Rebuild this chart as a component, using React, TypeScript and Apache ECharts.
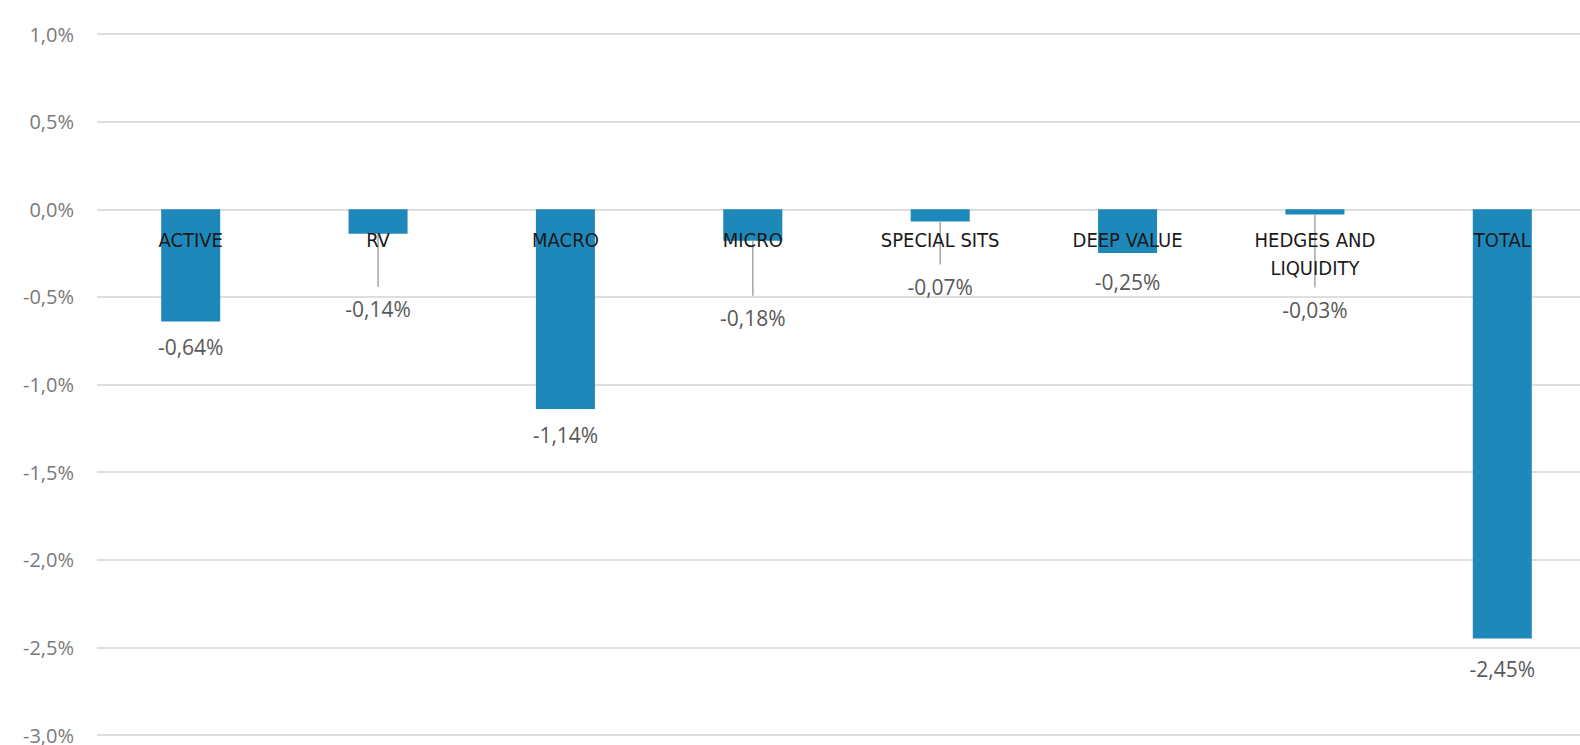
import React, { useEffect, useRef } from "react";
import * as echarts from "echarts";

const categories = [
  "ACTIVE",
  "RV",
  "MACRO",
  "MICRO",
  "SPECIAL SITS",
  "DEEP VALUE",
  "HEDGES AND\nLIQUIDITY",
  "TOTAL",
];
const values = [-0.64, -0.14, -1.14, -0.18, -0.07, -0.25, -0.03, -2.45];

const axisMin = -3;
const axisMax = 1;
const axisStep = 0.5;

// label placement (styling): px below bar end to label centre, and whether a leader line is drawn
const labelDrop = [26, 75, 26, 77, 65, 29, 95, 30];
const hasLeader = [false, true, false, true, true, false, true, false];

const fmtPct = (v: number, d: number) => v.toFixed(d).replace(".", ",") + "%";

export default function App() {
  const ref = useRef<HTMLDivElement>(null);
  useEffect(() => {
    if (!ref.current) return;
    const chart = echarts.init(ref.current, null, { renderer: "svg" });
    chart.setOption({
      animation: false,
      backgroundColor: "#ffffff",
      grid: {
        left: 97,
        right: -16,
        top: 34,
        bottom: 10,
        containLabel: false,
        outerBoundsMode: "none",
      },
      xAxis: {
        type: "category",
        data: categories,
        axisLine: { show: false },
        axisTick: { show: false },
        axisLabel: { show: false },
      },
      yAxis: {
        type: "value",
        min: axisMin,
        max: axisMax,
        interval: axisStep,
        axisLine: { show: false },
        axisTick: { show: false },
        splitLine: { lineStyle: { color: "#dedede", width: 2 } },
        axisLabel: {
          margin: 23,
          fontSize: 20,
          color: "#7a7a7a",
          fontFamily: "'Open Sans', sans-serif",
          formatter: (v: number) => fmtPct(v, 1),
        },
      },
      series: [
        {
          type: "bar",
          data: values,
          barWidth: "31.5%",
          itemStyle: { color: "#1f88ba" },
        },
        {
          type: "custom",
          z: 12,
          clip: false,
          data: values.map((v, i) => [i, v]),
          encode: { x: 0, y: 1 },
          renderItem: (params: any, api: any) => {
            const i = params.dataIndex;
            const v = api.value(1);
            const pt = api.coord([i, v]);
            const zero = api.coord([i, 0]);
            const cy = pt[1] + labelDrop[i];
            const children: any[] = [];
            if (hasLeader[i]) {
              children.push({
                type: "line",
                shape: { x1: pt[0], y1: pt[1], x2: pt[0], y2: cy - 22 },
                style: { stroke: "#a6a6a6", lineWidth: 1.5 },
              });
            }
            children.push({
              type: "text",
              x: zero[0],
              y: zero[1] + 17,
              style: {
                text: categories[i],
                fill: "#1a1a1a",
                fontSize: 20,
                lineHeight: 28,
                fontFamily: "'Liberation Sans Narrow', 'DejaVu Sans Condensed', sans-serif",
                align: "center",
                verticalAlign: "top",
              },
            });
            children.push({
              type: "text",
              x: pt[0],
              y: cy,
              style: {
                text: fmtPct(v, 2),
                fill: "#595959",
                fontSize: 21,
                fontFamily: "'Open Sans', sans-serif",
                align: "center",
                verticalAlign: "middle",
              },
            });
            return { type: "group", children };
          },
        },
      ],
    });
    return () => chart.dispose();
  }, []);
  return (
    <div
      ref={ref}
      style={{ position: "fixed", left: 0, top: 0, width: "1580px", height: "745px" }}
    />
  );
}
